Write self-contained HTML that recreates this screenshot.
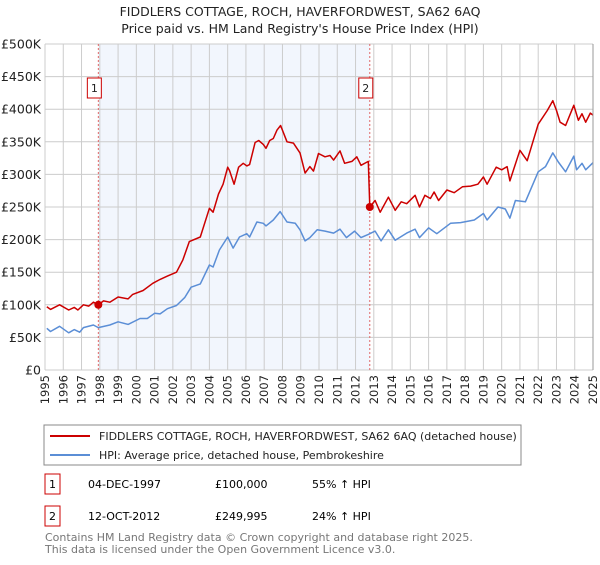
<!DOCTYPE html>
<html><head><meta charset="utf-8"><style>
body{margin:0;background:#fff;font-family:"Liberation Sans","DejaVu Sans",sans-serif;}
svg text{font-family:"DejaVu Sans","Liberation Sans",sans-serif;}
</style></head><body>
<svg id="c" width="600" height="560" xmlns="http://www.w3.org/2000/svg">
<text x="300" y="16" text-anchor="middle" font-size="12.5" fill="#222">FIDDLERS COTTAGE, ROCH, HAVERFORDWEST, SA62 6AQ</text>
<text x="300" y="33" text-anchor="middle" font-size="12.5" fill="#222">Price paid vs. HM Land Registry's House Price Index (HPI)</text>
<g id="grid"></g>
<g id="marks"></g>
<g id="axes"></g>
<rect x="44" y="425" width="477" height="40" fill="#fff" stroke="#888"/>
<line x1="50" y1="436" x2="90" y2="436" stroke="#cc0000" stroke-width="2"/>
<text x="99" y="440" font-size="11" fill="#222">FIDDLERS COTTAGE, ROCH, HAVERFORDWEST, SA62 6AQ (detached house)</text>
<line x1="50" y1="455" x2="90" y2="455" stroke="#5b8ed6" stroke-width="2"/>
<text x="99" y="459" font-size="11" fill="#222">HPI: Average price, detached house, Pembrokeshire</text>
<g>
<rect x="45" y="474" width="15" height="20" fill="#fff" stroke="#cc0000"/>
<text x="52.5" y="488" text-anchor="middle" font-size="11">1</text>
<text x="88" y="488" font-size="11">04-DEC-1997</text>
<text x="215" y="488" font-size="11">£100,000</text>
<text x="312" y="488" font-size="11">55% ↑ HPI</text></g>
<g>
<rect x="45" y="506" width="15" height="20" fill="#fff" stroke="#cc0000"/>
<text x="52.5" y="520" text-anchor="middle" font-size="11">2</text>
<text x="88" y="520" font-size="11">12-OCT-2012</text>
<text x="215" y="520" font-size="11">£249,995</text>
<text x="312" y="520" font-size="11">24% ↑ HPI</text></g>
<text x="45" y="541" font-size="11" fill="#777">Contains HM Land Registry data © Crown copyright and database right 2025.</text>
<text x="45" y="553" font-size="11" fill="#777">This data is licensed under the Open Government Licence v3.0.</text>
</svg>
<script>
const redYears=[1995.1,1995.3,1995.8,1996.3,1996.6,1996.8,1997.1,1997.4,1997.65,1997.92,1998.2,1998.55,1999.0,1999.55,1999.8,2000.37,2000.9,2001.3,2001.7,2002.2,2002.55,2002.9,2003.5,2004.0,2004.2,2004.5,2004.75,2005.0,2005.1,2005.35,2005.6,2005.85,2006.05,2006.2,2006.5,2006.7,2006.95,2007.1,2007.3,2007.5,2007.7,2007.9,2008.25,2008.6,2008.96,2009.24,2009.5,2009.7,2009.97,2010.33,2010.6,2010.8,2011.15,2011.4,2011.8,2012.07,2012.3,2012.7,2012.78,2013.07,2013.35,2013.8,2014.17,2014.5,2014.8,2015.26,2015.5,2015.8,2016.1,2016.3,2016.55,2017.0,2017.4,2017.85,2018.3,2018.7,2019.0,2019.2,2019.7,2020.0,2020.3,2020.45,2021.0,2021.4,2022.0,2022.5,2022.8,2023.0,2023.2,2023.5,2023.95,2024.2,2024.4,2024.6,2024.85,2025.0];
const redValues=[97,93,100,92,96,92,100,98,104,100,106,104,112,109,116,122,133,139,144,150,169,197,204,248,242,270,285,311,306,285,311,317,313,315,349,352,346,340,352,355,368,375,350,348,333,302,312,305,332,327,329,322,336,317,320,327,314,320,250,260,242,265,245,258,255,268,250,268,263,273,260,276,272,281,282,285,296,285,311,307,312,290,337,321,377,398,413,398,380,375,406,383,393,380,394,391];
const hpiYears=[1995.1,1995.3,1995.8,1996.3,1996.6,1996.9,1997.1,1997.65,1997.92,1998.55,1999.0,1999.55,2000.2,2000.6,2001.0,2001.3,2001.7,2002.2,2002.65,2003.0,2003.5,2004.0,2004.2,2004.55,2005.0,2005.3,2005.65,2006.05,2006.2,2006.6,2006.95,2007.1,2007.5,2007.87,2008.25,2008.7,2008.96,2009.24,2009.5,2009.9,2010.33,2010.8,2011.15,2011.5,2011.95,2012.3,2012.7,2013.07,2013.4,2013.8,2014.17,2014.8,2015.26,2015.5,2016.0,2016.45,2017.2,2017.75,2018.5,2019.0,2019.2,2019.8,2020.2,2020.45,2020.75,2021.3,2022.0,2022.4,2022.8,2023.1,2023.5,2023.95,2024.1,2024.4,2024.6,2025.0];
const hpiValues=[64,59,67,57,62,58,65,69,65,69,74,70,79,79,87,86,94,99,111,127,132,161,158,184,204,187,204,209,204,227,225,221,230,243,227,225,215,198,203,215,213,210,216,203,213,203,208,213,198,215,199,210,216,203,218,209,225,226,230,240,230,250,247,233,260,258,304,312,333,319,304,328,307,317,307,318];
const saleYears=[1997.92,2012.78];
const saleValues=[100,250];
const saleLabels=["1","2"];
const yTicks=[0,50,100,150,200,250,300,350,400,450,500];
const yTickLabels=["£0","£50K","£100K","£150K","£200K","£250K","£300K","£350K","£400K","£450K","£500K"];
const xTicks=[1995,1996,1997,1998,1999,2000,2001,2002,2003,2004,2005,2006,2007,2008,2009,2010,2011,2012,2013,2014,2015,2016,2017,2018,2019,2020,2021,2022,2023,2024,2025];

const L=45,R=593,T=44,B=370,NS="http://www.w3.org/2000/svg";
const X=y=>L+(y-1995)/30*(R-L);
const Y=v=>B-v/500*(B-T);
function mk(t,a,p){const e=document.createElementNS(NS,t);for(const k in a)e.setAttribute(k,a[k]);p.appendChild(e);return e;}
const grid=document.getElementById('grid'),marks=document.getElementById('marks'),axes=document.getElementById('axes');
const sh=mk('rect',{x:X(saleYears[0]),y:T,width:X(saleYears[1])-X(saleYears[0]),height:B-T,fill:'#f2f6fd'},grid);


xTicks.forEach(t=>{const l=mk('line',{x1:X(t),x2:X(t),y1:T,y2:B,stroke:'#ccc','stroke-width':1},grid);


const tx=mk('text',{transform:`translate(${X(t)+4},${B+5}) rotate(-90)`,'text-anchor':'end','font-size':11.5,fill:'#222'},axes);tx.textContent=t;

});
yTicks.forEach((t,i)=>{const l=mk('line',{x1:L,x2:R,y1:Y(t),y2:Y(t),stroke:'#ccc','stroke-width':1},grid);


const tx=mk('text',{x:L-4,y:Y(t)+4.5,'text-anchor':'end','font-size':12.5,fill:'#222'},axes);tx.textContent=yTickLabels[i];

});
saleYears.forEach((s,i)=>{const l=mk('line',{x1:X(s),x2:X(s),y1:T,y2:B,stroke:'#e06666','stroke-dasharray':'2,2','stroke-width':1},grid);


const g=mk('g',{},axes);


mk('rect',{x:X(s)-11,y:78,width:14,height:20,fill:'#fff',stroke:'#cc0000'},g);
const tx=mk('text',{x:X(s)-4,y:92,'text-anchor':'middle','font-size':11,fill:'#222'},g);tx.textContent=saleLabels[i];});
mk('line',{x1:R,x2:R,y1:T,y2:B,stroke:'#999'},axes);
function path(xs,vs,col,name){const d=xs.map((x,i)=>(i?'L':'M')+X(x).toFixed(1)+','+Y(vs[i]).toFixed(1)).join('');
const p=mk('path',{d,fill:'none',stroke:col,'stroke-width':1.5,'stroke-linejoin':'round'},marks);

}
path(hpiYears,hpiValues,'#5b8ed6','hpi-line');
path(redYears,redValues,'#cc0000','property-price-line');
saleYears.forEach((s,i)=>{const c=mk('circle',{cx:X(s),cy:Y(saleValues[i]),r:4,fill:'#cc0000'},marks);

});
</script>
</body></html>
